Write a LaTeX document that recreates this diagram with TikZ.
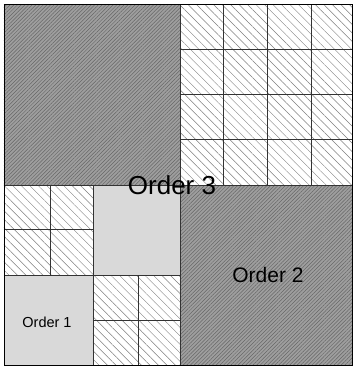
\documentclass[tikz,border=0pt]{standalone}
\usepackage{fontspec}
\setmainfont{Liberation Sans}
\usetikzlibrary{patterns.meta}
\tikzset{
  darkq/.style={fill=black!38},
  darkhatch/.style={pattern={Lines[angle=45,distance=2.6pt,line width=0.5pt]},pattern color=black!60},
  lightq/.style={fill=black!15},
  whitehatch/.style={pattern={Lines[angle=-45,distance=6pt,line width=0.45pt]},pattern color=black!50},
  gridline/.style={draw=black!80,line width=0.6pt},
  label/.style={inner sep=0pt,text=black}
}
\begin{document}
\begin{tikzpicture}[x=1pt,y=-1pt]
\useasboundingbox (0,0) rectangle (354,368);
\fill[white] (0,0) rectangle (354,368);
% dark quadrants
\fill[darkq] (4,4) rectangle (180,185);
\fill[darkhatch] (4,4) rectangle (180,185);
\fill[darkq] (180,185) rectangle (352,365);
\fill[darkhatch] (180,185) rectangle (352,365);
% light (order 1) blocks
\fill[lightq] (93,185) rectangle (180,275);
\fill[lightq] (4,275) rectangle (93,365);
% white hatched blocks
\fill[whitehatch] (180,4) rectangle (352,185);
\fill[whitehatch] (4,185) rectangle (93,275);
\fill[whitehatch] (93,275) rectangle (180,365);
% top-right grid
\foreach \x in {223,267,311} \draw[gridline] (\x,4) -- (\x,185);
\foreach \y in {49,94,139} \draw[gridline] (180,\y) -- (352,\y);
% bottom-left sub-grids
\draw[gridline] (50,185) -- (50,275);
\draw[gridline] (4,229) -- (93,229);
\draw[gridline] (138,275) -- (138,365);
\draw[gridline] (93,320) -- (180,320);
\draw[gridline] (93,185) -- (93,365);
\draw[gridline] (4,275) -- (180,275);
% quadrant dividers
\draw[gridline] (180,4) -- (180,365);
\draw[gridline] (4,185) -- (352,185);
% outer frame
\draw[black,line width=0.8pt] (4,4) rectangle (352,365);
% labels
\node[label,font=\fontsize{26}{26}\selectfont] (o3) at (172,185) {Order 3};
\node[label,font=\fontsize{21}{21}\selectfont] (o2) at (268,275) {Order 2};
\node[label,font=\fontsize{14.5}{14.5}\selectfont] (o1) at (47,322) {Order 1};
\end{tikzpicture}
\end{document}
